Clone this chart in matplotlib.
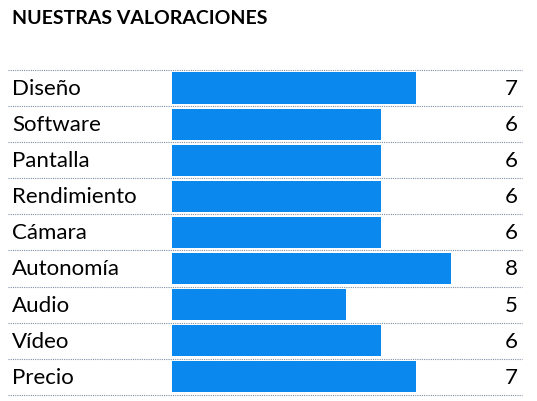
import matplotlib
matplotlib.use("Agg")
import matplotlib.pyplot as plt

categories = ["Diseño", "Software", "Pantalla", "Rendimiento", "Cámara",
              "Autonomía", "Audio", "Vídeo", "Precio"]
values = [7, 6, 6, 6, 6, 8, 5, 6, 7]

BAR_COLOR = "#0a88ee"
LINE_COLOR = "#7f8fa6"
FONT = "Lato"

W, H = 537, 402
X0 = 172      # pixel where bar value 0 sits
UNIT = 34.9   # pixels per unit
Y0 = 89       # pixel centre of first row
ROW = 36.1    # row pitch in pixels

fig = plt.figure(figsize=(W / 100, H / 100), dpi=100)
ax = fig.add_axes([0, 0, 1, 1])
ax.set_xlim(-X0 / UNIT, (W - X0) / UNIT)
ax.set_ylim((H - Y0) / ROW, -Y0 / ROW)
ax.axis("off")

rows = range(len(categories))
ax.barh(list(rows), values, height=0.86, color=BAR_COLOR, left=0)

x_lab = (12 - X0) / UNIT
x_num = (518 - X0) / UNIT
x_line_start = (8 - X0) / UNIT
x_line_end = (522 - X0) / UNIT
for i, (cat, v) in enumerate(zip(categories, values)):
    ax.text(x_lab, i, cat, ha="left", va="center", fontsize=16, family=FONT)
    ax.text(x_num, i, str(v), ha="right", va="center", fontsize=16, family=FONT)
for i in range(len(categories) + 1):
    ax.plot([x_line_start, x_line_end], [i - 0.5, i - 0.5], color=LINE_COLOR,
            linestyle=(0, (1, 1)), linewidth=0.8)

fig.text(12 / W, 1 - 18 / H, "NUESTRAS VALORACIONES", ha="left", va="center",
         fontsize=14, fontweight="bold", family=FONT)

fig.savefig("out.png", dpi=100)
